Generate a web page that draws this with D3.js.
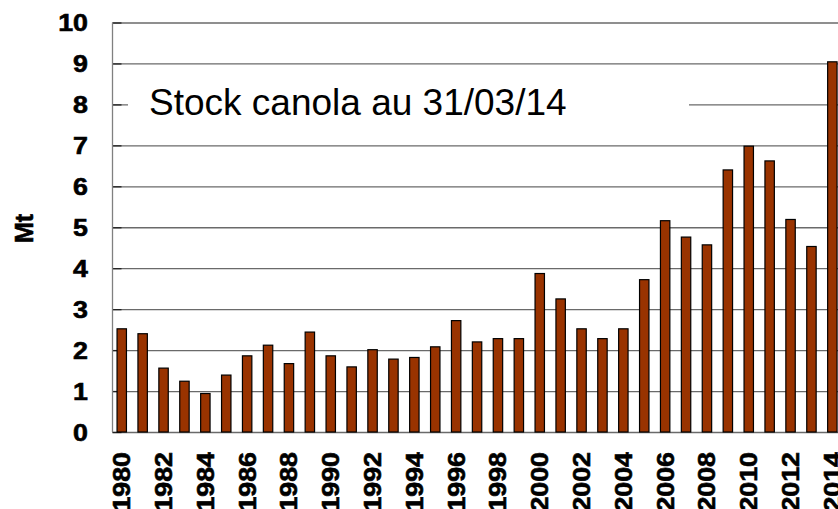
<!DOCTYPE html>
<html>
<head>
<meta charset="utf-8">
<script src="https://cdn.jsdelivr.net/npm/d3@7"></script>
<style>
  html, body { margin: 0; padding: 0; background: #fff; overflow: hidden; }
  svg { display: block; font-family: Arial, "Liberation Sans", sans-serif; }
</style>
</head>
<body>
<div id="chart"></div>
<script>
// Data - canola stocks (Mt)
const years = d3.range(1980, 2015)
const stocks = [
    2.52, 2.40, 1.56, 1.24, 0.94, 1.39, 1.86, 2.12, 1.67, 2.44,
    1.86, 1.59, 2.01, 1.78, 1.82, 2.08, 2.72, 2.20, 2.28, 2.28,
    3.87, 3.25, 2.52, 2.28, 2.52, 3.72, 5.16, 4.76, 4.57, 6.40,
    6.98, 6.62, 5.19, 4.53, 9.04
]
const yTicks = d3.range(0, 11)
const xLabels = years.filter(d => d % 2 === 0)
const titleText = 'Stock canola au 31/03/14'
const yTitle = 'Mt'

// Dimensions
const width = 838
const height = 509
const plotLeft = 112.5
const plotTop = 22.5
const plotBottom = 432
const step = 20.9

const svg = d3.select('#chart')
    .append('svg')
    .attr('width', width)
    .attr('height', height)

// Scales
const x = d3.scaleBand()
    .domain(years)
    .range([plotLeft - 1.2, plotLeft - 1.2 + step * years.length])
    .paddingInner(0.55)
    .paddingOuter(0.275)

const y = d3.scaleLinear()
    .domain([0, 10])
    .range([plotBottom, plotTop])

// Gridlines + y labels
const yAxisGroup = svg.append('g')
    .attr('transform', `translate(${plotLeft}, 0)`)
    .call(d3.axisLeft(y).tickValues(yTicks).tickSize(-(width - plotLeft)).tickFormat(d3.format('d')))

yAxisGroup.select('.domain').remove()
yAxisGroup.selectAll('.tick line')
    .style('stroke', '#6a6a6a')
    .style('stroke-width', 1.3)
yAxisGroup.selectAll('text')
    .attr('x', 0)
    .attr('dy', '0.36em')
    .attr('transform', 'translate(-24.5, 0) scale(1.14, 1)')
    .style('font-size', '23.5px')
    .style('font-weight', 'bold')
    .style('fill', '#000')
    .style('stroke', '#000')
    .style('stroke-width', 0.6)

// short inner tick marks
const tickGroup = svg.append('g')
    .attr('transform', `translate(${plotLeft}, 0)`)
    .call(d3.axisRight(y).tickValues(yTicks).tickSize(9).tickFormat(''))
tickGroup.select('.domain').remove()
tickGroup.selectAll('.tick line')
    .style('stroke', '#222')
    .style('stroke-width', 1.3)

// left axis line
svg.append('line')
    .attr('x1', plotLeft).attr('x2', plotLeft)
    .attr('y1', y(10)).attr('y2', y(0))
    .style('stroke', '#808080')
    .style('stroke-width', 1.3)

// Title box
svg.append('rect')
    .attr('x', 128)
    .attr('y', 80)
    .attr('width', 561)
    .attr('height', 48)
    .attr('fill', '#fff')

svg.append('text')
    .attr('x', 149)
    .attr('y', 115)
    .style('font-size', '37px')
    .style('fill', '#000')
    .text(titleText)

// Bars
svg.append('g')
    .selectAll('rect')
    .data(years)
    .enter()
    .append('rect')
    .attr('x', d => x(d))
    .attr('y', (d, i) => y(stocks[i]))
    .attr('width', x.bandwidth())
    .attr('height', (d, i) => y(0) - y(stocks[i]))
    .attr('fill', '#993300')
    .attr('stroke', '#000')
    .attr('stroke-width', 1.2)

// X labels
const xAxisGroup = svg.append('g')
    .attr('transform', `translate(0, ${plotBottom})`)
    .call(d3.axisBottom(x).tickValues(xLabels).tickSize(0))
xAxisGroup.select('.domain').remove()
xAxisGroup.selectAll('text')
    .attr('x', 0)
    .attr('y', 0)
    .attr('dy', '0.36em')
    .attr('text-anchor', 'end')
    .attr('transform', 'translate(0, 20) rotate(-90) scale(1.14, 1)')
    .style('font-size', '23.5px')
    .style('font-weight', 'bold')
    .style('fill', '#000')
    .style('stroke', '#000')
    .style('stroke-width', 0.6)

// Y title
svg.append('text')
    .attr('transform', 'translate(24, 228.5) rotate(-90)')
    .attr('text-anchor', 'middle')
    .attr('dy', '0.36em')
    .style('font-size', '25px')
    .style('font-weight', 'bold')
    .style('stroke', '#000')
    .style('stroke-width', 0.6)
    .text(yTitle)
</script>
</body>
</html>
